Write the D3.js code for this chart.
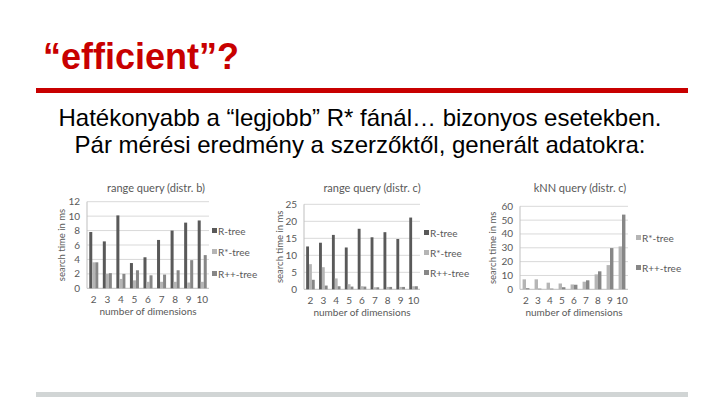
<!DOCTYPE html>
<html>
<head>
<meta charset="utf-8">
<script src="https://cdn.jsdelivr.net/npm/d3@7"></script>
<style>
  html, body { margin: 0; padding: 0; background: #fff; }
  svg { display: block; }
  .chart text { font-family: Lato, "Open Sans", sans-serif; fill: #595959; }
</style>
</head>
<body>
<svg id="slide" width="720" height="405"></svg>
<script>
// ---- data ----
const dims = ["2", "3", "4", "5", "6", "7", "8", "9", "10"];

// range query (distr. b)
const rangeB_rtree  = [7.8, 6.5, 10.1, 3.5, 4.3, 6.7, 8.0, 9.1, 9.4];
const rangeB_rstar  = [3.6, 2.0, 1.3, 1.1, 0.9, 0.9, 0.9, 0.8, 0.9];
const rangeB_rplus  = [3.6, 2.1, 2.0, 2.5, 1.8, 1.9, 2.5, 3.9, 4.6];
const rangeB_ticks  = [0, 2, 4, 6, 8, 10, 12];

// range query (distr. c)
const rangeC_rtree  = [12.6, 13.7, 16.0, 12.3, 17.8, 15.3, 16.8, 14.8, 21.1];
const rangeC_rstar  = [7.4, 6.5, 3.2, 1.5, 0.9, 0.6, 0.7, 0.7, 0.9];
const rangeC_rplus  = [2.8, 1.1, 0.9, 0.8, 0.8, 0.6, 0.7, 0.7, 0.9];
const rangeC_ticks  = [0, 5, 10, 15, 20, 25];

// kNN query (distr. c)
const knnC_rstar    = [7.2, 7.2, 4.8, 4.2, 3.5, 5.5, 10.8, 17.5, 31.0];
const knnC_rplus    = [0.8, 0.5, 0.5, 1.5, 3.3, 6.5, 13.0, 29.8, 54.0];
const knnC_ticks    = [0, 10, 20, 30, 40, 50, 60];

const seriesNames = { rtree: "R-tree", rstar: "R*-tree", rplus: "R++-tree" };
const seriesColors = { rtree: "#595959", rstar: "#b5b5b5", rplus: "#878787" };

const svg = d3.select("#slide");
svg.append("rect").attr("width", 720).attr("height", 405).attr("fill", "#fff");

// ---- slide header ----
const red = "#c80000";
svg.append("text")
  .attr("x", 43).attr("y", 69)
  .attr("font-family", "'Liberation Sans', Arial, sans-serif")
  .attr("font-size", 36).attr("font-weight", "bold")
  .attr("fill", red)
  .text("\u201Cefficient\u201D?");
svg.append("rect").attr("x", 36).attr("y", 88).attr("width", 652).attr("height", 5).attr("fill", red);

const subLines = [
  "Hatékonyabb a \u201Clegjobb\u201D R* fánál\u2026 bizonyos esetekben.",
  "Pár mérési eredmény a szerzőktől, generált adatokra:"
];
svg.selectAll("text.sub")
  .data(subLines)
  .join("text")
  .attr("class", "sub")
  .attr("x", 360).attr("y", (d, i) => 126 + i * 27)
  .attr("text-anchor", "middle")
  .attr("font-family", "'Liberation Sans', Arial, sans-serif")
  .attr("font-size", 24)
  .attr("fill", "#000")
  .text(d => d);

svg.append("rect").attr("x", 36).attr("y", 392).attr("width", 652).attr("height", 5).attr("fill", "#d1d5d5");

// ---- charts ----
function drawChart(cfg) {
  const g = svg.append("g").attr("class", "chart");
  const keys = cfg.series.map(s => s.key);

  const x = d3.scaleBand().domain(dims).range([cfg.x0, cfg.x1]).paddingInner(cfg.pad).paddingOuter(cfg.pad / 2);
  const xs = d3.scaleBand().domain(keys).range([0, x.bandwidth()]);
  const y = d3.scaleLinear().domain([0, d3.max(cfg.ticks)]).range([cfg.yBot, cfg.yTop]);

  // grid
  g.selectAll("line.grid")
    .data(cfg.ticks)
    .join("line")
    .attr("x1", cfg.x0).attr("x2", cfg.x1)
    .attr("y1", d => y(d)).attr("y2", d => y(d))
    .attr("stroke", d => d === 0 ? "#bfbfbf" : "#d9d9d9").attr("stroke-width", 1);
  g.append("line")
    .attr("x1", cfg.x0).attr("x2", cfg.x0)
    .attr("y1", cfg.yTop).attr("y2", cfg.yBot)
    .attr("stroke", "#bfbfbf");

  // y tick labels
  g.selectAll("text.ytick")
    .data(cfg.ticks)
    .join("text")
    .attr("x", cfg.x0 - 7).attr("y", d => y(d) + 3.5)
    .attr("text-anchor", "end").attr("font-size", 10)
    .text(d => d);

  // bars
  const groups = g.selectAll("g.cat")
    .data(dims)
    .join("g")
    .attr("transform", d => `translate(${x(d)},0)`);
  groups.selectAll("rect")
    .data((d, i) => cfg.series.map(s => ({ key: s.key, v: s.values[i] })))
    .join("rect")
    .attr("x", d => xs(d.key))
    .attr("width", xs.bandwidth())
    .attr("y", d => y(d.v))
    .attr("height", d => cfg.yBot - y(d.v))
    .attr("fill", d => seriesColors[d.key]);

  // x tick labels
  g.selectAll("text.xtick")
    .data(dims)
    .join("text")
    .attr("x", d => x(d) + x.bandwidth() / 2).attr("y", cfg.yBot + 15)
    .attr("text-anchor", "middle").attr("font-size", 10)
    .text(d => d);

  // axis titles
  g.append("text")
    .attr("x", (cfg.x0 + cfg.x1) / 2).attr("y", cfg.yBot + 27)
    .attr("text-anchor", "middle").attr("font-size", 10)
    .text("number of dimensions");
  g.append("text")
    .attr("transform", `translate(${cfg.yTitleX},${(cfg.yTop + cfg.yBot) / 2}) rotate(-90)`)
    .attr("text-anchor", "middle").attr("font-size", 9.5)
    .text("search time in ms");

  // chart title
  g.append("text")
    .attr("x", cfg.titleX).attr("y", 192)
    .attr("text-anchor", "middle").attr("font-size", 11)
    .text(cfg.title);

  // legend
  cfg.series.forEach((s, i) => {
    const ly = cfg.legendY[i];
    g.append("rect")
      .attr("x", cfg.legendX).attr("y", ly - 3).attr("width", 5).attr("height", 5)
      .attr("fill", seriesColors[s.key]);
    g.append("text")
      .attr("x", cfg.legendX + 6).attr("y", ly + 3.5)
      .attr("font-size", 10)
      .text(seriesNames[s.key]);
  });
}

drawChart({
  title: "range query (distr. b)", titleX: 156,
  x0: 87, x1: 209, yTop: 201.7, yBot: 288.3, pad: 0.333,
  ticks: rangeB_ticks, yTitleX: 65,
  legendX: 212, legendY: [231, 252, 274],
  series: [
    { key: "rtree", values: rangeB_rtree },
    { key: "rstar", values: rangeB_rstar },
    { key: "rplus", values: rangeB_rplus }
  ]
});

drawChart({
  title: "range query (distr. c)", titleX: 372,
  x0: 304, x1: 420, yTop: 204.3, yBot: 289.3, pad: 0.333,
  ticks: rangeC_ticks, yTitleX: 283,
  legendX: 424, legendY: [233, 253, 273],
  series: [
    { key: "rtree", values: rangeC_rtree },
    { key: "rstar", values: rangeC_rstar },
    { key: "rplus", values: rangeC_rplus }
  ]
});

drawChart({
  title: "kNN query (distr. c)", titleX: 580,
  x0: 520, x1: 628, yTop: 206.3, yBot: 289.3, pad: 0.43,
  ticks: knnC_ticks, yTitleX: 496,
  legendX: 636, legendY: [238, 268],
  series: [
    { key: "rstar", values: knnC_rstar },
    { key: "rplus", values: knnC_rplus }
  ]
});
</script>
</body>
</html>
